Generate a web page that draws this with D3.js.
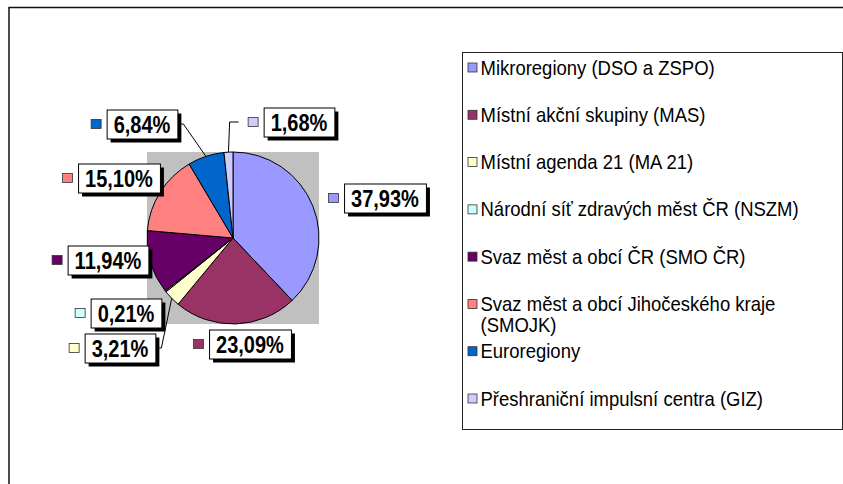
<!DOCTYPE html>
<html>
<head>
<meta charset="utf-8">
<script src="https://cdn.jsdelivr.net/npm/d3@7"></script>
<style>
  body { margin: 0; background: #fff; }
  svg { display: block; font-family: "Liberation Sans", Arial, sans-serif; }
</style>
</head>
<body>
<svg id="chart" width="843" height="484"></svg>
<script>
// ----------

const CATEGORIES = [
  "Mikroregiony (DSO a ZSPO)",
  "Místní akční skupiny (MAS)",
  "Místní agenda 21 (MA 21)",
  "Národní síť zdravých měst ČR (NSZM)",
  "Svaz měst a obcí ČR (SMO ČR)",
  "Svaz měst a obcí Jihočeského kraje (SMOJK)",
  "Euroregiony",
  "Přeshraniční impulsní centra (GIZ)"
];
const SHARES = [37.93, 23.09, 3.21, 0.21, 11.94, 15.10, 6.84, 1.68];
const COLORS = ["#9999FF", "#993366", "#FFFFCC", "#CCFFFF", "#660066", "#FF8080", "#0066CC", "#CCCCFF"];

// ----------

const PIE_CX = 233;
const PIE_CY = 238;
const PIE_R = 86;
const PLOT_BG = "#C0C0C0";

// labels were dragged by hand in the original, offsets of box centre from pie centre
const LABEL_OFFSETS = [[152, -40], [17, 106], [-113, 110], [-107, 75], [-125, 22], [-114, -60], [-91, -114], [66, -116]];
const HAS_LEADER = [false, false, true, false, false, false, true, true];

// the source picture is squeezed sideways, so text is drawn a bit narrow
const LABEL_FONT = 23;
const LABEL_SQUEEZE = 0.87;
const LEGEND_FONT = 20;
const LEGEND_SQUEEZE = 0.925;
const LEGEND_BOX = { x: 462.5, y: 52.5, w: 380, h: 377 };
const LEGEND_WRAP = 345;

// ----------

function formatShare(v) {
  return v.toFixed(2).replace(".", ",") + "%";
}

function wrapWords(textSel, str, maxWidth) {
  // measure word by word, the long SMOJK entry breaks in two
  let words = str.split(" ");
  let lines = [];
  let line = [];
  for (let w of words) {
    line.push(w);
    textSel.text(line.join(" "));
    if (textSel.node().getComputedTextLength() * LEGEND_SQUEEZE > maxWidth && line.length > 1) {
      line.pop();
      lines.push(line.join(" "));
      line = [w];
    }
  }
  lines.push(line.join(" "));
  textSel.text(null);
  return lines;
}

// ----------

const svg = d3.select("#chart");

// page frame
svg.append("path")
  .attr("d", "M9,484V7.5H843")
  .attr("fill", "none")
  .attr("stroke", "#111")
  .attr("stroke-width", 1.5);

// plot area
svg.append("rect")
  .attr("x", PIE_CX - PIE_R)
  .attr("y", PIE_CY - PIE_R)
  .attr("width", PIE_R * 2)
  .attr("height", PIE_R * 2)
  .attr("fill", PLOT_BG);

const pie = d3.pie().sort(null).value(function (d) { return d; });
const arcs = pie(SHARES);
const arc = d3.arc().innerRadius(0).outerRadius(PIE_R);

const pieG = svg.append("g").attr("transform", "translate(" + PIE_CX + "," + PIE_CY + ")");

pieG.selectAll("path")
  .data(arcs)
  .join("path")
  .attr("d", arc)
  .attr("fill", function (d, i) { return COLORS[i]; })
  .attr("stroke", "#000")
  .attr("stroke-width", 1)
  .attr("stroke-linejoin", "round");

// ----------  data labels

const leaderG = svg.append("g");
const labelG = svg.append("g");

arcs.forEach(function (d, i) {
  let g = labelG.append("g");
  let text = g.append("text")
    .attr("font-size", LABEL_FONT)
    .attr("font-weight", "bold")
    .attr("fill", "#000")
    .attr("dominant-baseline", "central")
    .text(formatShare(d.data));
  let tw = text.node().getComputedTextLength() * LABEL_SQUEEZE;
  let bw = tw + 14;
  let bh = 29;
  let bx = PIE_CX + LABEL_OFFSETS[i][0] - bw / 2;
  let by = PIE_CY + LABEL_OFFSETS[i][1] - bh / 2;

  g.insert("rect", "text")
    .attr("x", bx + 4).attr("y", by + 4)
    .attr("width", bw).attr("height", bh)
    .attr("fill", "#000");
  g.insert("rect", "text")
    .attr("x", bx + 0.5).attr("y", by + 0.5)
    .attr("width", bw).attr("height", bh)
    .attr("fill", "#fff")
    .attr("stroke", "#000")
    .attr("stroke-width", 1);
  text.attr("transform", "translate(" + (bx + 7) + "," + (by + bh / 2 + 1) + ") scale(" + LABEL_SQUEEZE + ",1)");

  // legend key beside the box
  let kx = bx - 16;
  g.append("rect")
    .attr("x", kx + 0.5).attr("y", by + bh / 2 - 4.5)
    .attr("width", 10).attr("height", 9)
    .attr("fill", COLORS[i])
    .attr("stroke", "#333")
    .attr("stroke-width", 0.8);

  if (HAS_LEADER[i]) {
    let mid = (d.startAngle + d.endAngle) / 2;
    let px = PIE_CX + PIE_R * Math.sin(mid);
    let py = PIE_CY - PIE_R * Math.cos(mid);
    let sy = by + bh / 2;
    let pts;
    if (px > bx + bw) {
      pts = [[bx + bw, sy], [bx + bw + 6, sy], [px, py]];
    } else {
      pts = [[kx - 9, sy], [kx - 18, sy], [px, py]];
    }
    leaderG.append("path")
      .attr("d", d3.line()(pts))
      .attr("fill", "none")
      .attr("stroke", "#000")
      .attr("stroke-width", 1);
  }
});

// ----------  legend

svg.append("rect")
  .attr("x", LEGEND_BOX.x)
  .attr("y", LEGEND_BOX.y)
  .attr("width", LEGEND_BOX.w)
  .attr("height", LEGEND_BOX.h)
  .attr("fill", "#fff")
  .attr("stroke", "#222")
  .attr("stroke-width", 1);

const legendY = d3.scalePoint()
  .domain(CATEGORIES)
  .range([LEGEND_BOX.y + 15, LEGEND_BOX.y + 346]);

const legendG = svg.append("g");

CATEGORIES.forEach(function (name, i) {
  let y = legendY(name);
  legendG.append("rect")
    .attr("x", LEGEND_BOX.x + 5.5)
    .attr("y", y - 4.5)
    .attr("width", 9)
    .attr("height", 9)
    .attr("fill", COLORS[i])
    .attr("stroke", "#333")
    .attr("stroke-width", 0.8);
  let text = legendG.append("text")
    .attr("font-size", LEGEND_FONT)
    .attr("fill", "#000");
  let lines = wrapWords(text, name, LEGEND_WRAP);
  text.attr("transform", "translate(" + (LEGEND_BOX.x + 18) + "," + y + ") scale(" + LEGEND_SQUEEZE + ",1)");
  lines.forEach(function (ln, j) {
    text.append("tspan")
      .attr("x", 0)
      .attr("y", j * 21)
      .attr("dy", "0.35em")
      .text(ln);
  });
});
</script>
</body>
</html>
